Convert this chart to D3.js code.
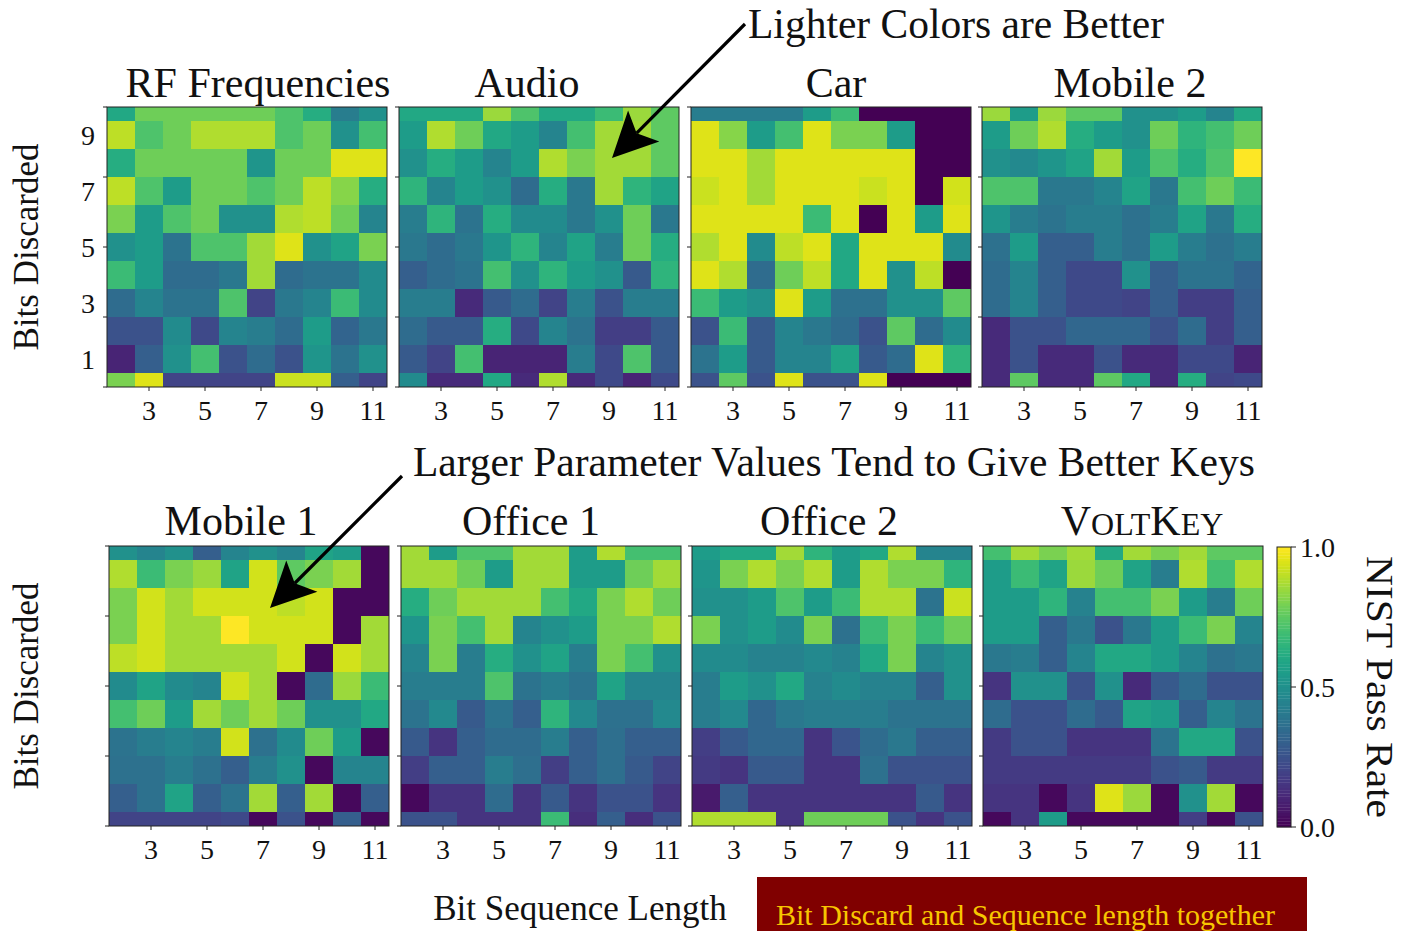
<!DOCTYPE html>
<html>
<head>
<meta charset="utf-8">
<script src="https://cdn.jsdelivr.net/npm/d3@7"></script>
<style>
  body { margin: 0; background: #fff; }
  svg { display: block; }
  text { font-family: "Liberation Serif", "Times New Roman", serif; fill: #111; }
</style>
</head>
<body>
<svg id="chart" width="1404" height="931"></svg>
<script>
// ---- data ----------------------------------------------------------------
const seqLengths = [2, 3, 4, 5, 6, 7, 8, 9, 10, 11];
const bitsDiscarded = [10, 9, 8, 7, 6, 5, 4, 3, 2, 1, 0];   // row order, top to bottom
const xTickValues = [3, 5, 7, 9, 11];
const yTickLabels = [1, 3, 5, 7, 9];
const yTickMarks = [0, 2.5, 5, 7.5, 10];
const colorbarTicks = [0.0, 0.5, 1.0];

const panelTitles = ["RF Frequencies", "Audio", "Car", "Mobile 2",
                     "Mobile 1", "Office 1", "Office 2", "VoltKey"];

// NIST pass rate, one row per bits-discarded value (10 at top), columns = sequence length 2..11
const rfFrequencies = [
  [0.60, 0.78, 0.78, 0.78, 0.78, 0.78, 0.72, 0.62, 0.42, 0.50],
  [0.90, 0.72, 0.78, 0.88, 0.88, 0.88, 0.72, 0.78, 0.50, 0.70],
  [0.62, 0.78, 0.78, 0.78, 0.78, 0.52, 0.78, 0.78, 0.95, 0.95],
  [0.90, 0.72, 0.55, 0.78, 0.78, 0.72, 0.78, 0.90, 0.82, 0.62],
  [0.80, 0.55, 0.72, 0.78, 0.50, 0.50, 0.88, 0.90, 0.78, 0.45],
  [0.50, 0.55, 0.38, 0.72, 0.72, 0.86, 0.95, 0.50, 0.58, 0.80],
  [0.68, 0.55, 0.35, 0.35, 0.40, 0.86, 0.35, 0.38, 0.38, 0.48],
  [0.35, 0.45, 0.38, 0.38, 0.72, 0.20, 0.40, 0.45, 0.68, 0.48],
  [0.25, 0.25, 0.48, 0.22, 0.45, 0.42, 0.35, 0.55, 0.32, 0.40],
  [0.10, 0.30, 0.50, 0.70, 0.25, 0.35, 0.25, 0.52, 0.38, 0.50],
  [0.80, 0.95, 0.20, 0.20, 0.20, 0.20, 0.92, 0.92, 0.30, 0.20]
];
const audio = [
  [0.60, 0.60, 0.60, 0.85, 0.72, 0.60, 0.60, 0.68, 0.85, 0.75],
  [0.55, 0.88, 0.78, 0.60, 0.55, 0.45, 0.70, 0.86, 0.86, 0.75],
  [0.50, 0.62, 0.55, 0.45, 0.55, 0.88, 0.80, 0.86, 0.86, 0.75],
  [0.65, 0.45, 0.55, 0.50, 0.35, 0.62, 0.40, 0.86, 0.65, 0.58],
  [0.42, 0.65, 0.38, 0.62, 0.48, 0.48, 0.40, 0.50, 0.78, 0.40],
  [0.40, 0.35, 0.40, 0.52, 0.65, 0.45, 0.58, 0.42, 0.78, 0.62],
  [0.30, 0.35, 0.38, 0.70, 0.50, 0.65, 0.55, 0.50, 0.28, 0.65],
  [0.42, 0.42, 0.12, 0.28, 0.35, 0.20, 0.42, 0.25, 0.42, 0.42],
  [0.35, 0.28, 0.28, 0.62, 0.22, 0.45, 0.38, 0.18, 0.18, 0.28],
  [0.28, 0.20, 0.70, 0.10, 0.10, 0.10, 0.42, 0.22, 0.72, 0.28],
  [0.48, 0.12, 0.12, 0.60, 0.12, 0.88, 0.12, 0.22, 0.10, 0.22]
];
const car = [
  [0.42, 0.42, 0.42, 0.42, 0.55, 0.68, 0.00, 0.00, 0.00, 0.00],
  [0.95, 0.82, 0.55, 0.70, 0.95, 0.80, 0.80, 0.55, 0.00, 0.00],
  [0.95, 0.95, 0.86, 0.95, 0.95, 0.95, 0.95, 0.95, 0.00, 0.00],
  [0.92, 0.95, 0.86, 0.95, 0.95, 0.95, 0.92, 0.95, 0.00, 0.93],
  [0.95, 0.95, 0.95, 0.95, 0.68, 0.95, 0.00, 0.95, 0.55, 0.95],
  [0.88, 0.95, 0.48, 0.90, 0.95, 0.60, 0.95, 0.95, 0.95, 0.48],
  [0.95, 0.88, 0.35, 0.78, 0.90, 0.60, 0.95, 0.50, 0.90, 0.00],
  [0.68, 0.55, 0.50, 0.95, 0.55, 0.37, 0.37, 0.50, 0.50, 0.75],
  [0.25, 0.68, 0.28, 0.45, 0.40, 0.35, 0.25, 0.75, 0.35, 0.48],
  [0.38, 0.55, 0.28, 0.45, 0.45, 0.58, 0.28, 0.35, 0.95, 0.65],
  [0.25, 0.75, 0.25, 0.95, 0.25, 0.25, 0.95, 0.00, 0.00, 0.00]
];
const mobile2 = [
  [0.85, 0.55, 0.85, 0.75, 0.75, 0.50, 0.50, 0.55, 0.45, 0.60],
  [0.55, 0.78, 0.88, 0.62, 0.55, 0.50, 0.78, 0.65, 0.70, 0.78],
  [0.50, 0.47, 0.52, 0.58, 0.86, 0.55, 0.72, 0.62, 0.72, 1.00],
  [0.72, 0.72, 0.40, 0.40, 0.45, 0.58, 0.40, 0.70, 0.78, 0.68],
  [0.52, 0.42, 0.38, 0.42, 0.42, 0.37, 0.42, 0.58, 0.40, 0.62],
  [0.37, 0.55, 0.30, 0.30, 0.42, 0.37, 0.55, 0.42, 0.37, 0.42],
  [0.35, 0.45, 0.30, 0.22, 0.22, 0.50, 0.30, 0.38, 0.38, 0.32],
  [0.35, 0.45, 0.30, 0.22, 0.22, 0.20, 0.30, 0.18, 0.18, 0.30],
  [0.12, 0.25, 0.25, 0.33, 0.33, 0.33, 0.25, 0.35, 0.18, 0.30],
  [0.12, 0.25, 0.12, 0.12, 0.25, 0.12, 0.12, 0.22, 0.22, 0.10],
  [0.12, 0.75, 0.12, 0.12, 0.75, 0.60, 0.12, 0.62, 0.20, 0.22]
];
const mobile1 = [
  [0.50, 0.45, 0.50, 0.30, 0.45, 0.50, 0.45, 0.58, 0.55, 0.02],
  [0.88, 0.68, 0.80, 0.85, 0.58, 0.93, 0.75, 0.80, 0.86, 0.02],
  [0.80, 0.93, 0.86, 0.93, 0.93, 0.93, 0.90, 0.93, 0.02, 0.02],
  [0.80, 0.93, 0.86, 0.86, 1.00, 0.93, 0.93, 0.93, 0.02, 0.86],
  [0.90, 0.93, 0.86, 0.86, 0.86, 0.86, 0.93, 0.02, 0.93, 0.86],
  [0.48, 0.58, 0.48, 0.45, 0.93, 0.86, 0.02, 0.35, 0.85, 0.68],
  [0.70, 0.78, 0.55, 0.86, 0.78, 0.86, 0.78, 0.50, 0.50, 0.60],
  [0.38, 0.42, 0.45, 0.42, 0.93, 0.37, 0.48, 0.78, 0.55, 0.02],
  [0.37, 0.37, 0.42, 0.37, 0.30, 0.42, 0.50, 0.02, 0.45, 0.45],
  [0.30, 0.37, 0.58, 0.30, 0.38, 0.86, 0.30, 0.86, 0.02, 0.30],
  [0.20, 0.20, 0.20, 0.20, 0.22, 0.02, 0.25, 0.02, 0.30, 0.02]
];
const office1 = [
  [0.86, 0.55, 0.72, 0.72, 0.86, 0.86, 0.55, 0.88, 0.70, 0.70],
  [0.86, 0.86, 0.78, 0.55, 0.86, 0.86, 0.55, 0.55, 0.78, 0.86],
  [0.62, 0.78, 0.86, 0.86, 0.86, 0.70, 0.60, 0.80, 0.88, 0.78],
  [0.52, 0.80, 0.70, 0.86, 0.45, 0.50, 0.55, 0.80, 0.80, 0.88],
  [0.45, 0.80, 0.42, 0.62, 0.50, 0.58, 0.42, 0.80, 0.70, 0.50],
  [0.42, 0.42, 0.42, 0.72, 0.38, 0.42, 0.38, 0.58, 0.45, 0.45],
  [0.38, 0.47, 0.28, 0.38, 0.30, 0.65, 0.47, 0.37, 0.37, 0.47],
  [0.28, 0.15, 0.30, 0.35, 0.35, 0.42, 0.30, 0.36, 0.30, 0.30],
  [0.18, 0.30, 0.30, 0.42, 0.36, 0.18, 0.30, 0.36, 0.28, 0.20],
  [0.02, 0.15, 0.15, 0.35, 0.15, 0.28, 0.15, 0.25, 0.25, 0.15],
  [0.25, 0.25, 0.15, 0.15, 0.15, 0.68, 0.13, 0.30, 0.13, 0.25]
];
const office2 = [
  [0.55, 0.60, 0.60, 0.86, 0.65, 0.55, 0.60, 0.88, 0.45, 0.45],
  [0.52, 0.80, 0.88, 0.80, 0.88, 0.55, 0.88, 0.80, 0.80, 0.65],
  [0.50, 0.50, 0.55, 0.72, 0.55, 0.68, 0.88, 0.88, 0.38, 0.92],
  [0.80, 0.50, 0.55, 0.48, 0.80, 0.37, 0.68, 0.80, 0.68, 0.78],
  [0.48, 0.48, 0.44, 0.44, 0.47, 0.44, 0.60, 0.80, 0.45, 0.50],
  [0.42, 0.55, 0.50, 0.60, 0.44, 0.48, 0.44, 0.44, 0.30, 0.50],
  [0.42, 0.47, 0.33, 0.40, 0.42, 0.42, 0.42, 0.38, 0.38, 0.38],
  [0.18, 0.28, 0.33, 0.33, 0.15, 0.26, 0.35, 0.40, 0.30, 0.30],
  [0.17, 0.15, 0.28, 0.28, 0.15, 0.15, 0.37, 0.25, 0.25, 0.25],
  [0.07, 0.30, 0.15, 0.15, 0.15, 0.15, 0.15, 0.15, 0.28, 0.15],
  [0.88, 0.88, 0.88, 0.15, 0.78, 0.78, 0.78, 0.25, 0.15, 0.25]
];
const voltkey = [
  [0.70, 0.86, 0.80, 0.86, 0.60, 0.86, 0.80, 0.86, 0.75, 0.75],
  [0.55, 0.68, 0.58, 0.85, 0.78, 0.58, 0.42, 0.88, 0.70, 0.88],
  [0.55, 0.55, 0.65, 0.44, 0.70, 0.70, 0.80, 0.55, 0.42, 0.78],
  [0.55, 0.55, 0.30, 0.40, 0.25, 0.40, 0.55, 0.68, 0.80, 0.45],
  [0.40, 0.42, 0.30, 0.45, 0.60, 0.60, 0.55, 0.45, 0.37, 0.40],
  [0.15, 0.50, 0.50, 0.25, 0.50, 0.12, 0.28, 0.35, 0.25, 0.25],
  [0.35, 0.25, 0.25, 0.35, 0.28, 0.58, 0.55, 0.30, 0.45, 0.38],
  [0.17, 0.25, 0.25, 0.15, 0.15, 0.15, 0.38, 0.60, 0.60, 0.25],
  [0.17, 0.17, 0.17, 0.17, 0.17, 0.17, 0.25, 0.28, 0.17, 0.17],
  [0.15, 0.15, 0.02, 0.15, 0.95, 0.85, 0.02, 0.50, 0.86, 0.02],
  [0.02, 0.15, 0.55, 0.02, 0.02, 0.02, 0.02, 0.18, 0.02, 0.25]
];

const panelData = [rfFrequencies, audio, car, mobile2, mobile1, office1, office2, voltkey];

// ---- layout --------------------------------------------------------------
const panelLeft   = [107, 399, 691, 982, 109, 401, 692, 983];
const panelTop    = [107, 107, 107, 107, 546, 546, 546, 546];
const panelW = 280, panelH = 280;
const titleX = [258, 527, 836, 1130, 241, 531, 829, 1142];
const titleBaseline = [97, 97, 97, 97, 535, 535, 535, 535];

const svg = d3.select("#chart");
const color = d3.scaleSequential(d3.interpolateViridis).domain([0, 1]);

panelData.forEach((matrix, p) => {
  const left = panelLeft[p], top = panelTop[p];
  const x = d3.scaleLinear().domain([1.5, 11.5]).range([left, left + panelW]);
  const y = d3.scaleLinear().domain([0, 10]).range([top + panelH, top]);

  const clipId = "clip" + p;
  svg.append("clipPath").attr("id", clipId)
    .append("rect").attr("x", left).attr("y", top).attr("width", panelW).attr("height", panelH);

  const cells = [];
  matrix.forEach((row, r) => row.forEach((v, c) => {
    cells.push({ len: seqLengths[c], bits: bitsDiscarded[r], v });
  }));

  const g = svg.append("g");
  g.append("g").attr("clip-path", `url(#${clipId})`)
    .selectAll("rect").data(cells).join("rect")
    .attr("x", d => x(d.len - 0.5))
    .attr("y", d => y(d.bits + 0.5))
    .attr("width", d => x(d.len + 0.5) - x(d.len - 0.5) + 0.4)
    .attr("height", d => y(d.bits - 0.5) - y(d.bits + 0.5) + 0.4)
    .attr("fill", d => color(d.v));

  // frame
  g.append("rect").attr("x", left).attr("y", top).attr("width", panelW).attr("height", panelH)
    .attr("fill", "none").attr("stroke", "#222").attr("stroke-width", 1);

  // x axis ticks and labels
  g.selectAll("line.xt").data(xTickValues).join("line")
    .attr("x1", d => x(d)).attr("x2", d => x(d))
    .attr("y1", top + panelH).attr("y2", top + panelH + 4)
    .attr("stroke", "#222").attr("stroke-width", 1);
  g.selectAll("text.xl").data(xTickValues).join("text")
    .attr("x", d => x(d)).attr("y", top + panelH + 33)
    .attr("text-anchor", "middle").attr("font-size", 28)
    .attr("fill", "#333")
    .text(d => d);

  // y axis tick marks
  g.selectAll("line.yt").data(yTickMarks).join("line")
    .attr("x1", left - 4).attr("x2", left)
    .attr("y1", d => y(d)).attr("y2", d => y(d))
    .attr("stroke", "#222").attr("stroke-width", 1);

  if (p === 0) {
    g.selectAll("text.yl").data(yTickLabels).join("text")
      .attr("x", left - 12).attr("y", d => y(d))
      .attr("dy", "0.35em")
      .attr("text-anchor", "end").attr("font-size", 28)
      .attr("fill", "#333")
      .text(d => d);
  }
  if (p % 4 === 0) {
    svg.append("text")
      .attr("transform", `translate(38, ${top + panelH / 2}) rotate(-90)`)
      .attr("text-anchor", "middle").attr("font-size", 35)
      .text("Bits Discarded");
  }

  // title
  const t = svg.append("text")
    .attr("x", titleX[p]).attr("y", titleBaseline[p])
    .attr("text-anchor", "middle").attr("font-size", 42);
  if (panelTitles[p] === "VoltKey") {
    // small caps rendering
    t.append("tspan").text("V");
    t.append("tspan").attr("font-size", 32).text("OLT");
    t.append("tspan").text("K");
    t.append("tspan").attr("font-size", 32).text("EY");
  } else {
    t.text(panelTitles[p]);
  }
});

// ---- colorbar ------------------------------------------------------------
const cbX = 1277, cbW = 14, cbTop = 547, cbBottom = 827;
const cbY = d3.scaleLinear().domain([0, 1]).range([cbBottom, cbTop]);
const stops = d3.range(0, 1, 1 / 100);
svg.append("g").selectAll("rect").data(stops).join("rect")
  .attr("x", cbX).attr("width", cbW)
  .attr("y", d => cbY(d + 0.01))
  .attr("height", cbY(0) - cbY(0.01) + 0.3)
  .attr("fill", d => color(d + 0.005));
svg.append("rect").attr("x", cbX).attr("y", cbTop).attr("width", cbW).attr("height", cbBottom - cbTop)
  .attr("fill", "none").attr("stroke", "#222").attr("stroke-width", 1);
svg.append("g").selectAll("line").data(colorbarTicks).join("line")
  .attr("x1", cbX + cbW).attr("x2", cbX + cbW + 5)
  .attr("y1", d => cbY(d)).attr("y2", d => cbY(d))
  .attr("stroke", "#222");
svg.append("g").selectAll("text").data(colorbarTicks).join("text")
  .attr("x", cbX + cbW + 9).attr("y", d => cbY(d)).attr("dy", "0.35em")
  .attr("font-size", 28).attr("fill", "#333")
  .text(d => d3.format(".1f")(d));
svg.append("text")
  .attr("transform", `translate(1367, ${(cbTop + cbBottom) / 2}) rotate(90)`)
  .attr("text-anchor", "middle").attr("font-size", 38)
  .attr("textLength", 262).attr("lengthAdjust", "spacingAndGlyphs")
  .text("NIST Pass Rate");

// ---- annotations ---------------------------------------------------------
function arrow(x0, y0, x1, y1) {
  const dx = x1 - x0, dy = y1 - y0, len = Math.hypot(dx, dy);
  const ux = dx / len, uy = dy / len, nx = -uy, ny = ux;
  const L = 45, W = 22, notch = 10;
  const bx = x1 - L * ux, by = y1 - L * uy;
  svg.append("line")
    .attr("x1", x0).attr("y1", y0)
    .attr("x2", x1 - (L - notch) * ux).attr("y2", y1 - (L - notch) * uy)
    .attr("stroke", "#000").attr("stroke-width", 3.2);
  svg.append("path")
    .attr("d", `M${x1},${y1} L${bx + W * nx},${by + W * ny} L${x1 - (L - notch) * ux},${y1 - (L - notch) * uy} L${bx - W * nx},${by - W * ny} Z`)
    .attr("fill", "#000");
}

svg.append("text").attr("x", 748).attr("y", 38).attr("font-size", 41.5)
  .text("Lighter Colors are Better");
arrow(745, 24, 612, 158);

svg.append("text").attr("x", 413).attr("y", 476).attr("font-size", 41.5)
  .text("Larger Parameter Values Tend to Give Better Keys");
arrow(402, 476, 270, 608);

svg.append("text").attr("x", 580).attr("y", 920).attr("text-anchor", "middle")
  .attr("font-size", 35).text("Bit Sequence Length");

svg.append("rect").attr("x", 757).attr("y", 877).attr("width", 550).attr("height", 60)
  .attr("fill", "#800000");
svg.append("text").attr("x", 776).attr("y", 925).attr("font-size", 30)
  .style("fill", "#f7c600")
  .text("Bit Discard and Sequence length together");
</script>
</body>
</html>
